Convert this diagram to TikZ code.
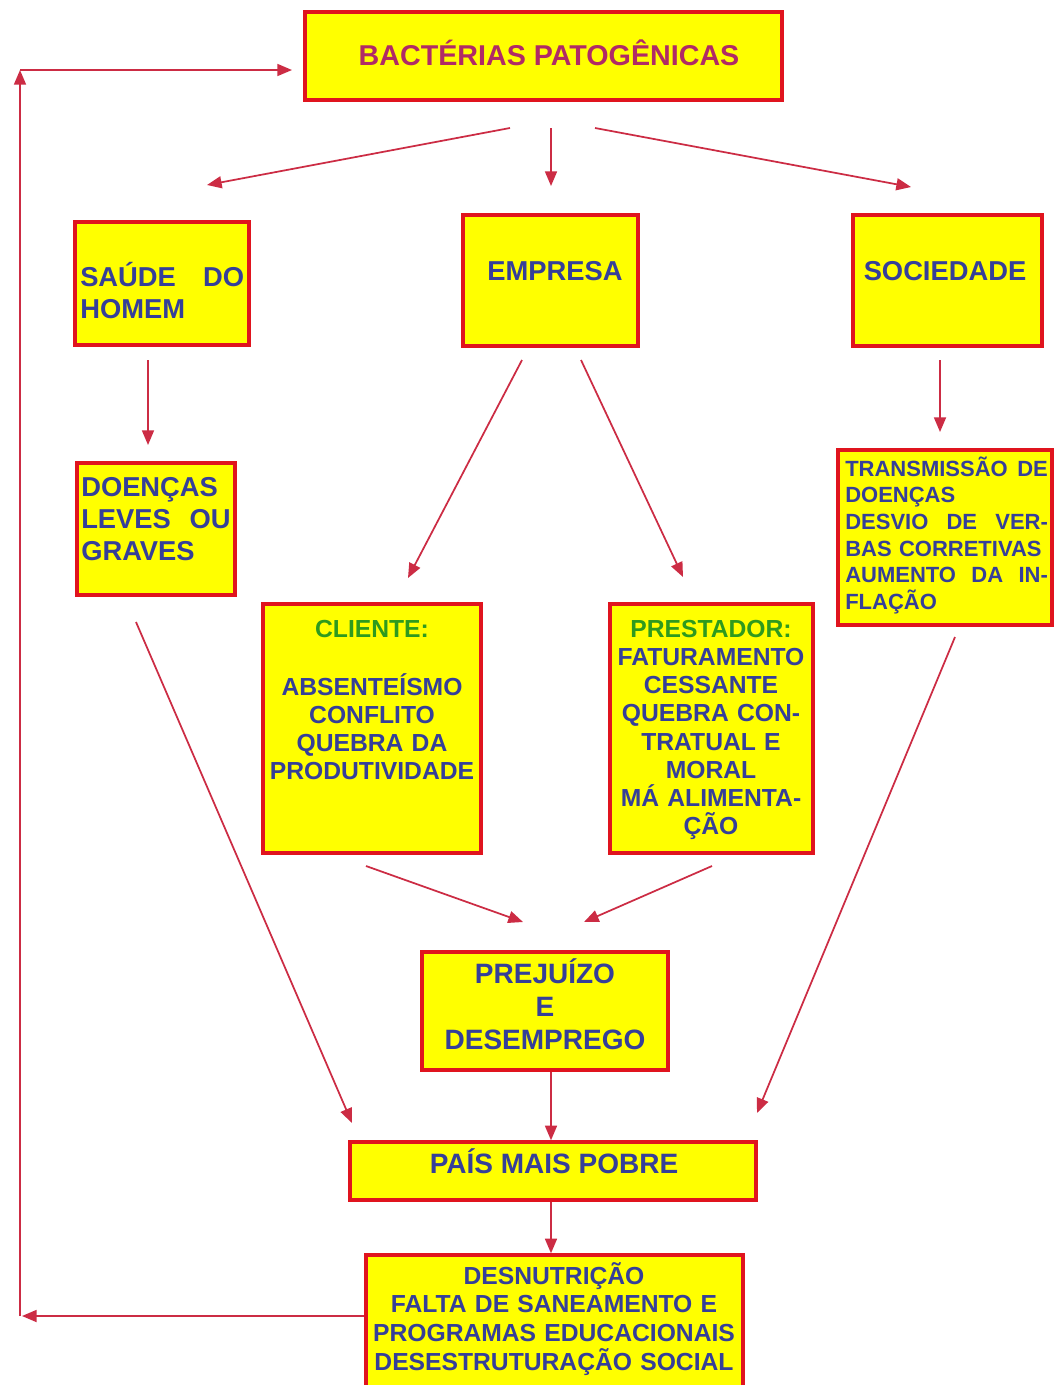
\documentclass[tikz,border=0pt]{standalone}
\usepackage{fontspec}
\setmainfont{Liberation Sans}
\usetikzlibrary{arrows.meta,fit}
\definecolor{boxfill}{HTML}{FFFF00}
\definecolor{boxline}{HTML}{E0141E}
\definecolor{inkblue}{HTML}{353F99}
\definecolor{inkmag}{HTML}{B02A66}
\definecolor{inkgreen}{HTML}{2E9A1E}
\definecolor{linkred}{HTML}{CC2C44}
\begin{document}
\begin{tikzpicture}[x=0.75pt,y=-0.75pt,
  box/.style={draw=boxline,fill=boxfill,line width=2.6pt,inner sep=0pt},
  txt/.style={inner sep=0pt,text=inkblue},
  big/.style={font=\fontsize{20.5}{24.2}\selectfont\bfseries},
  mid/.style={font=\fontsize{18.5}{21.2}\selectfont\bfseries},
  small/.style={font=\fontsize{16.5}{20}\selectfont\bfseries},
  link/.style={draw=linkred,line width=1.3pt,-{Triangle[length=11pt,width=9pt]}},
]
\clip (0,0) rectangle (1054,1385);
\fill[white] (0,0) rectangle (1054,1385);

% boxes
\node[box,fit={(305,12)(782,100)}] (bact) {};
\node[box,fit={(75,222)(249,345)}] (saude) {};
\node[box,fit={(463,215)(638,346)}] (emp) {};
\node[box,fit={(853,215)(1042,346)}] (soc) {};
\node[box,fit={(77,463)(235,595)}] (doen) {};
\node[box,fit={(838,450)(1052,625)}] (trans) {};
\node[box,fit={(263,604)(481,853)}] (cli) {};
\node[box,fit={(610,604)(813,853)}] (prest) {};
\node[box,fit={(422,952)(668,1070)}] (prej) {};
\node[box,fit={(350,1142)(756,1200)}] (pais) {};
\node[box,fit={(366,1255)(743,1395)}] (desn) {};

% texts
\node[txt,text=inkmag,font=\fontsize{21.5}{26}\selectfont\bfseries,anchor=base] (bactT) at (549,65) {BACTÉRIAS PATOGÊNICAS};
\node[txt,big,text width=123pt,align=left,anchor=base west] (saudeT) at (80,286) {SAÚDE\hfill DO\\HOMEM};
\node[txt,big,anchor=base] (empT) at (555,280) {EMPRESA};
\node[txt,big,anchor=base] (socT) at (945,280) {SOCIEDADE};
\node[txt,big,text width=112pt,align=left,anchor=base west] (doenT) at (81,496) {DOENÇAS\\LEVES\hfill OU\\GRAVES};
\node[txt,small,text width=152pt,align=left,anchor=base west] (transT) at (845,476)
  {TRANSMISSÃO\hfill DE\\DOENÇAS\\DESVIO\hfill DE\hfill VER-\\BAS CORRETIVAS\\AUMENTO\hfill DA\hfill IN-\\FLAÇÃO};
\node[txt,mid,text=inkgreen,anchor=base] (cliH) at (372,637) {CLIENTE:};
\node[txt,mid,text width=165pt,align=center,anchor=base] (cliT) at (372,695)
  {ABSENTEÍSMO\\CONFLITO\\QUEBRA DA\\PRODUTIVIDADE};
\node[txt,mid,text width=165pt,align=center,anchor=base] (prestT) at (711,637)
  {{\color{inkgreen}PRESTADOR:}\\FATURAMENTO\\CESSANTE\\QUEBRA CON-\\TRATUAL E\\MORAL\\MÁ ALIMENTA-\\ÇÃO};
\node[txt,font=\fontsize{21}{25}\selectfont\bfseries,text width=180pt,align=center,anchor=base] (prejT) at (545,983)
  {PREJUÍZO\\E\\DESEMPREGO};
\node[txt,font=\fontsize{21}{25}\selectfont\bfseries,anchor=base] (paisT) at (554,1173) {PAÍS MAIS POBRE};
\node[txt,font=\fontsize{18.5}{21.5}\selectfont\bfseries,text width=285pt,align=center,anchor=base] (desnT) at (554,1284)
  {DESNUTRIÇÃO\\FALTA DE SANEAMENTO E\\PROGRAMAS EDUCACIONAIS\\DESESTRUTURAÇÃO SOCIAL};

% free arrow ends
\coordinate (b1) at (510,128); \coordinate (b1e) at (207,185);
\coordinate (b2) at (551,128); \coordinate (b2e) at (551,186);
\coordinate (b3) at (595,128); \coordinate (b3e) at (911,187);
\coordinate (s1) at (148,360); \coordinate (s1e) at (148,445);
\coordinate (e1) at (522,360); \coordinate (e1e) at (408,578);
\coordinate (e2) at (581,360); \coordinate (e2e) at (683,577);
\coordinate (o1) at (940,360); \coordinate (o1e) at (940,432);
\coordinate (d1) at (136,622); \coordinate (d1e) at (352,1123);
\coordinate (t1) at (955,637); \coordinate (t1e) at (757,1113);
\coordinate (c1) at (366,866); \coordinate (c1e) at (523,922);
\coordinate (p1) at (712,866); \coordinate (p1e) at (584,922);
\coordinate (axis) at (551,0);
\coordinate (fbl) at (22,1316);
\coordinate (fbb) at (20,1316); \coordinate (fbt) at (20,70);
\coordinate (fbs) at (20,70); \coordinate (fbe) at (292,70);

% connectors
\draw[link] (b1) -- (b1e);
\draw[link] (b2) -- (b2e);
\draw[link] (b3) -- (b3e);
\draw[link] (s1) -- (s1e);
\draw[link] (e1) -- (e1e);
\draw[link] (e2) -- (e2e);
\draw[link] (o1) -- (o1e);
\draw[link] (d1) -- (d1e);
\draw[link] (t1) -- (t1e);
\draw[link] (c1) -- (c1e);
\draw[link] (p1) -- (p1e);
\draw[link] (prej.south -| axis) -- (pais.north -| axis);
\draw[link] (pais.south -| axis) -- (desn.north -| axis);
\draw[link] (desn.west |- fbl) -- (fbl);
\draw[link] (fbb) -- (fbt);
\draw[link] (fbs) -- (fbe);
\end{tikzpicture}
\end{document}
